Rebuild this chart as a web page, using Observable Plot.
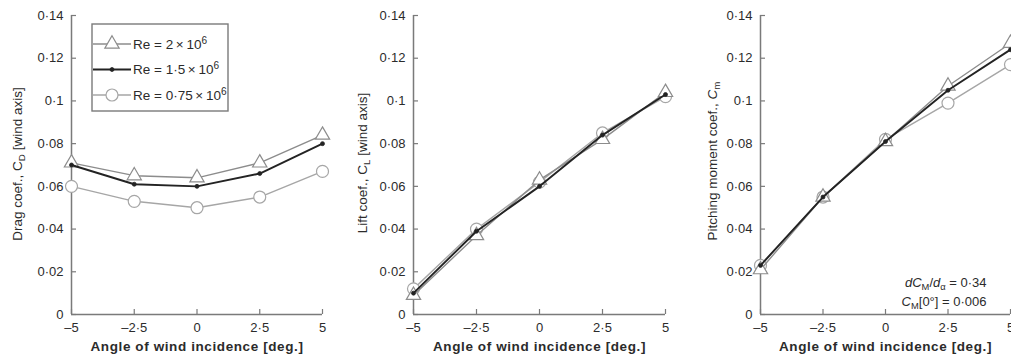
<!DOCTYPE html>
<html>
<head>
<meta charset="utf-8">
<script src="https://cdn.jsdelivr.net/npm/d3@7"></script>
<script src="https://cdn.jsdelivr.net/npm/@observablehq/plot@0.6"></script>
<style>
  html, body { margin: 0; padding: 0; background: #fff; overflow: hidden; }
  #chart { position: relative; width: 1011px; height: 361px; overflow: hidden; }
  #chart > svg { position: absolute; top: 0; }
</style>
</head>
<body>
<div id="chart"></div>
<script>
// Wind-tunnel coefficients against angle of wind incidence, three Reynolds numbers.
const angles = [-5, -2.5, 0, 2.5, 5];
const angleTickLabels = ["\u20135", "\u20132·5", "0", "2·5", "5"];
const coefTicks = [0, 0.02, 0.04, 0.06, 0.08, 0.1, 0.12, 0.14];
const coefTickLabels = ["0", "0·02", "0·04", "0·06", "0·08", "0·1", "0·12", "0·14"];
const seriesNames = ["Re = 2\u2009×\u200910^{6}", "Re = 1·5\u2009×\u200910^{6}", "Re = 0·75\u2009×\u200910^{6}"];

// Drag coefficient C_D
const dragRe2 = [0.071, 0.065, 0.064, 0.071, 0.084];
const dragRe15 = [0.070, 0.061, 0.060, 0.066, 0.080];
const dragRe075 = [0.060, 0.053, 0.050, 0.055, 0.067];
// Lift coefficient C_L
const liftRe2 = [0.009, 0.037, 0.063, 0.082, 0.104];
const liftRe15 = [0.010, 0.039, 0.060, 0.084, 0.103];
const liftRe075 = [0.012, 0.040, 0.062, 0.085, 0.102];
// Pitching moment coefficient C_m
const pitchRe2 = [0.021, 0.055, 0.081, 0.107, 0.127];
const pitchRe15 = [0.023, 0.055, 0.081, 0.105, 0.124];
const pitchRe075 = [0.023, 0.055, 0.082, 0.099, 0.117];

const xTitle = "Angle of wind incidence [deg.]";
const yTitles = ["Drag coef., C_{D} [wind axis]", "Lift coef., C_{L} [wind axis]", "Pitching moment coef., *C*_{m}"];
const pitchNotes = ["*dC*_{M}/*d*_{α} = 0·34", "*C*_{M}[0°] = 0·006"];

const FONT = '"Liberation Sans", Arial, Helvetica, sans-serif';
const AXIS = "#7a7a7a";
const TEXT = "#2b2b2b";
const seriesStyle = [
  {stroke: "#8c8c8c", strokeWidth: 1.4, symbol: "triangle", r: 5.3, fill: "#fff", markStroke: 1.2},
  {stroke: "#232323", strokeWidth: 1.9, symbol: "circle", r: 2, fill: "#232323", markStroke: 0.8},
  {stroke: "#a6a6a6", strokeWidth: 1.4, symbol: "circle", r: 6, fill: "#fff", markStroke: 1.2}
];
const drawOrder = [2, 0, 1];

// Turn a small markup (_{sub}, ^{sup}, *italic*) into tspans.
function setRich(textEl, raw) {
  const ns = "http://www.w3.org/2000/svg";
  textEl.textContent = "";
  const tokens = raw.split(/(_\{[^}]*\}|\^\{[^}]*\}|\*[^*]*\*)/).filter(s => s.length);
  let shift = 0;
  for (const tok of tokens) {
    const ts = document.createElementNS(ns, "tspan");
    let target = 0, txt = tok;
    if (tok.startsWith("_{")) { target = 3; txt = tok.slice(2, -1); ts.setAttribute("font-size", "0.72em"); }
    else if (tok.startsWith("^{")) { target = -5; txt = tok.slice(2, -1); ts.setAttribute("font-size", "0.75em"); }
    else if (tok.startsWith("*")) { txt = tok.slice(1, -1); ts.setAttribute("font-style", "italic"); }
    if (target !== shift) { ts.setAttribute("dy", target - shift); shift = target; }
    ts.textContent = txt;
    textEl.appendChild(ts);
  }
}
function textsOf(svg, label) {
  return svg.querySelectorAll(`text[aria-label="${label}"], g[aria-label="${label}"] text`);
}

function panel({series, left, width, axisX, x5, title, titleDx, titleDy, notes}) {
  const data = series.map((vals, s) => angles.map((a, i) => ({angle: a, value: vals[i], s})));
  const marks = [
    Plot.ruleY([0], {stroke: AXIS, strokeWidth: 1.5}),
    Plot.ruleX([-5], {stroke: AXIS, strokeWidth: 1.5}),
    Plot.axisY(coefTicks, {
      anchor: "left", tickSize: -5, tickPadding: 13, stroke: AXIS, fill: TEXT, strokeWidth: 1.2,
      tickFormat: d => coefTickLabels[coefTicks.indexOf(d)], label: null, fontSize: 13
    }),
    Plot.axisX(angles, {
      anchor: "bottom", tickSize: -5, tickPadding: 13, stroke: AXIS, fill: TEXT, strokeWidth: 1.2,
      tickFormat: d => angleTickLabels[angles.indexOf(d)], label: null, fontSize: 13
    }),
    Plot.text([title], {text: d => d, frameAnchor: "left", textAnchor: "middle", rotate: -90,
      dx: titleDx, dy: titleDy, fill: TEXT, fontSize: 13.5, ariaLabel: () => "y-title"}),
    Plot.text([xTitle], {text: d => d, frameAnchor: "bottom", dy: 36, fill: TEXT, fontSize: 13.5,
      fontWeight: "bold", ariaLabel: () => "x-title"})
  ];
  for (const s of drawOrder) {
    const st = seriesStyle[s];
    marks.push(Plot.line(data[s], {x: "angle", y: "value", stroke: st.stroke, strokeWidth: st.strokeWidth}));
    marks.push(Plot.dot(data[s], {x: "angle", y: "value", symbol: st.symbol, r: st.r,
      stroke: st.stroke, fill: st.fill, strokeWidth: st.markStroke}));
  }
  if (notes) {
    notes.forEach((n, i) => marks.push(Plot.text([n], {text: d => d, frameAnchor: "bottom-right",
      textAnchor: "end", dx: -24, dy: i === 0 ? -28 : -9, fill: TEXT, fontSize: 13, ariaLabel: () => "note"})));
  }
  const svg = Plot.plot({
    width, height: 361,
    marginLeft: axisX - left, marginRight: left + width - x5, marginTop: 15, marginBottom: 47,
    x: {domain: [-5, 5], axis: null},
    y: {domain: [0, 0.14], axis: null},
    style: {fontFamily: FONT, fontSize: "13px", color: TEXT, background: "transparent", overflow: "visible"},
    marks
  });
  svg.style.left = left + "px";
  textsOf(svg, "y-title").forEach(t => setRich(t, t.textContent));
  textsOf(svg, "note").forEach(t => setRich(t, t.textContent));
  textsOf(svg, "x-title").forEach(t => t.setAttribute("letter-spacing", "0.6"));
  return svg;
}

const chart = document.getElementById("chart");
chart.appendChild(panel({series: [dragRe2, dragRe15, dragRe075], left: 0, width: 340, axisX: 71, x5: 322,
  title: yTitles[0], titleDx: -54, titleDy: -1}));
chart.appendChild(panel({series: [liftRe2, liftRe15, liftRe075], left: 340, width: 340, axisX: 413, x5: 665,
  title: yTitles[1], titleDx: -51, titleDy: -2}));
chart.appendChild(panel({series: [pitchRe2, pitchRe15, pitchRe075], left: 680, width: 360, axisX: 760, x5: 1010,
  title: yTitles[2], titleDx: -48, titleDy: -4, notes: pitchNotes}));

// Legend box inside the drag panel
const leg = d3.select(chart).append("svg")
  .attr("width", 140).attr("height", 92)
  .style("left", "91px").style("top", "23px")
  .attr("font-family", FONT).attr("font-size", 13.5);
leg.append("rect").attr("x", 1).attr("y", 1).attr("width", 136).attr("height", 87)
  .attr("fill", "#fff").attr("stroke", AXIS).attr("stroke-width", 1.4);
seriesNames.forEach((name, i) => {
  const st = seriesStyle[i];
  const cy = 21 + i * 25.5;
  const g = leg.append("g");
  g.append("line").attr("x1", 2).attr("x2", 40).attr("y1", cy).attr("y2", cy)
    .attr("stroke", st.stroke).attr("stroke-width", st.strokeWidth);
  const sym = st.symbol === "triangle" ? d3.symbolTriangle : d3.symbolCircle;
  g.append("path").attr("transform", `translate(21,${cy})`)
    .attr("d", d3.symbol(sym, Math.PI * st.r * st.r)())
    .attr("fill", st.fill).attr("stroke", st.stroke).attr("stroke-width", st.markStroke);
  const t = g.append("text").attr("x", 42).attr("y", cy).attr("dy", "0.35em").attr("fill", TEXT);
  setRich(t.node(), name);
});
</script>
</body>
</html>
